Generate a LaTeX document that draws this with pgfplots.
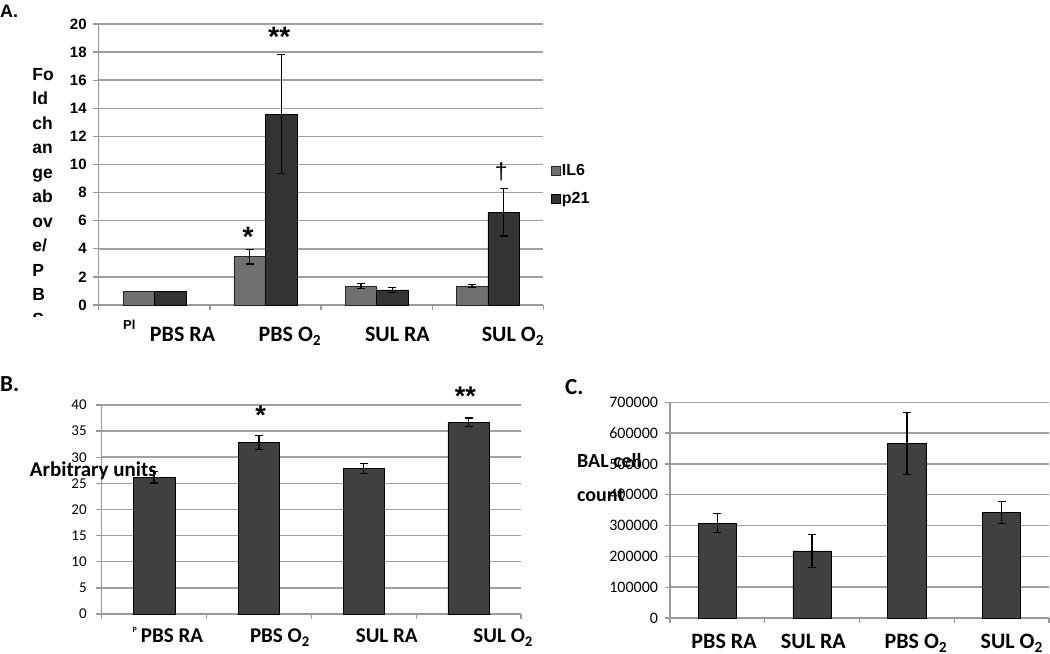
\documentclass[border=0pt]{standalone}
\usepackage{pgfplots}
\pgfplotsset{compat=1.18}
\usepackage{fontspec}
\setmainfont{Liberation Sans}
\newfontfamily\carl{Carlito}
\definecolor{gridc}{HTML}{A0A0A0}
\definecolor{axc}{HTML}{999999}
\definecolor{ilsix}{HTML}{707070}
\definecolor{ptw}{HTML}{333333}
\definecolor{barc}{HTML}{404040}
\pgfplotsset{
  panel/.style={
    scale only axis, axis lines*=left, clip=false,
    axis line style={draw=axc, line width=1.3bp},
    ymajorgrids, grid style={draw=gridc, line width=1.5bp},
    tick align=outside, major tick length=5.5bp,
    tick style={draw=axc, line width=1.3bp},
    xmin=0.5, xmax=4.5, xtick={0.5,1.5,2.5,3.5,4.5}, xticklabels={},
    /pgf/number format/assume math mode=true,
    ybar=0pt,
  },
  eb/.style={error bars/.cd, y dir=both, y explicit,
    error bar style={black, line width=1.3bp},
    error mark options={rotate=90, black, mark size=4bp, line width=1.3bp}},
}
\begin{document}
\begin{tikzpicture}[x=1bp,y=1bp]
\path[use as bounding box] (0,0) rectangle (1050,654);

% ---------------- Panel A
\begin{axis}[panel, at={(98.7bp,349bp)}, anchor=south west,
  width=444.7bp, height=281bp, ymin=0, ymax=20, ytick={0,2,...,20},
  bar width=31.5bp,
  yticklabel={\textbf{\pgfmathprintnumber{\tick}}},
  yticklabel style={font=\bfseries\fontsize{15bp}{15bp}\selectfont, xshift=-3bp},
  extra x ticks={1.254,2.22,3.187,4.226},
  extra x tick labels={PBS RA, PBS O\textsubscript{2}, SUL RA, SUL O\textsubscript{2}},
  extra x tick style={major tick length=0pt, grid=none,
    xticklabel style={font=\carl\bfseries\fontsize{22bp}{22bp}\selectfont, anchor=base, yshift=-37bp}},
  legend style={at={(1.0155,0.4288)}, anchor=west, draw=none, fill=none,
    font=\bfseries\fontsize{16bp}{18bp}\selectfont, inner sep=0pt, row sep=11bp},
  legend cell align=left,
  legend image code/.code={\draw[#1, line width=0.4bp] (0bp,-4.5bp) rectangle (9bp,4.5bp);},
]
\addplot[fill=ilsix, draw=black!85, line width=0.5bp, bar shift=-15.75bp, forget plot]
  coordinates {(1,1.0)};
\addplot[fill=ptw, draw=black, line width=0.5bp, bar shift=15.75bp, forget plot]
  coordinates {(1,1.0)};
\addplot[fill=ilsix, draw=black!85, line width=0.5bp, bar shift=-15.75bp, eb]
  coordinates {(2,3.44) +- (0,0.53) (3,1.35) +- (0,0.19) (4,1.35) +- (0,0.13)};
\addlegendentry{IL6}
\addplot[fill=ptw, draw=black, line width=0.5bp, bar shift=15.75bp, eb]
  coordinates {(2,13.59) +- (0,4.23) (3,1.07) +- (0,0.16) (4,6.6) +- (0,1.68)};
\addlegendentry{p21}
\node[font=\bfseries\fontsize{28bp}{28bp}\selectfont, anchor=base] at (axis cs:2.125,18.4) {**};
\node[font=\bfseries\fontsize{28bp}{28bp}\selectfont, anchor=base] at (axis cs:1.843,4.17) {*};
\node[font=\fontsize{23bp}{23bp}\selectfont, anchor=base] at (axis cs:4.122,8.93) {\dag};
\end{axis}

% ---------------- Panel B
\begin{axis}[panel, at={(101.7bp,40bp)}, anchor=south west,
  width=419.3bp, height=209bp, ymin=0, ymax=40, ytick={0,5,...,40},
  bar width=41.5bp,
  yticklabel style={font=\carl\fontsize{15bp}{15bp}\selectfont, xshift=-6bp},
  extra x ticks={1.171,2.200,3.219,4.33},
  extra x tick labels={PBS RA, PBS O\textsubscript{2}, SUL RA, SUL O\textsubscript{2}},
  extra x tick style={major tick length=0pt, grid=none,
    xticklabel style={font=\carl\bfseries\fontsize{21bp}{21bp}\selectfont, anchor=base, yshift=-29bp}},
]
\addplot[fill=barc, draw=black, line width=0.6bp, eb]
  coordinates {(1,26.2) +- (0,1.1) (2,32.8) +- (0,1.3) (3,27.8) +- (0,0.95) (4,36.7) +- (0,0.8)};
\node[font=\bfseries\fontsize{27bp}{27bp}\selectfont, anchor=base] at (axis cs:2.017,36.3) {*};
\node[font=\bfseries\fontsize{27bp}{27bp}\selectfont, anchor=base] at (axis cs:3.97,39.9) {**};
\end{axis}

% ---------------- Panel C
\begin{axis}[panel, at={(670bp,36bp)}, anchor=south west,
  width=379bp, height=215.7bp, ymin=0, ymax=700000, ytick={0,100000,...,700000},
  scaled y ticks=false,
  yticklabel style={font=\carl\fontsize{16bp}{16bp}\selectfont, xshift=-3bp,
    /pgf/number format/fixed, /pgf/number format/1000 sep={}},
  bar width=38.3bp,
  extra x ticks={1.07,2.013,3.095,4.107},
  extra x tick labels={PBS RA, SUL RA, PBS O\textsubscript{2}, SUL O\textsubscript{2}},
  extra x tick style={major tick length=0pt, grid=none,
    xticklabel style={font=\carl\bfseries\fontsize{22bp}{22bp}\selectfont, anchor=base, yshift=-31bp}},
]
\addplot[fill=barc, draw=black, line width=0.6bp, eb]
  coordinates {(1,308000) +- (0,31000) (2,218000) +- (0,54000) (3,566000) +- (0,100000) (4,342000) +- (0,35000)};
\end{axis}

% ---------------- Free text
\node[anchor=base west, inner sep=0pt, font=\bfseries\fontsize{18bp}{18bp}\selectfont] at (0,654-18) {A.};
\node[anchor=base west, inner sep=0pt, font=\carl\bfseries\fontsize{23bp}{23bp}\selectfont] at (0,654-392) {B.};
\node[anchor=base west, inner sep=0pt, font=\carl\bfseries\fontsize{23bp}{23bp}\selectfont] at (565,654-395) {C.};
\begin{scope}
\clip (0,654-317) rectangle (80,654-55);
\node[anchor=north west, align=left, inner sep=0pt, font=\bfseries\fontsize{17.5bp}{24.5bp}\selectfont] at (32.3,654-68) {Fo\\ld\\ch\\an\\ge\\ab\\ov\\e/\\P\\B\\S};
\end{scope}
\node[anchor=base west, inner sep=0pt, font=\bfseries\fontsize{13bp}{13bp}\selectfont] at (123,654-330) {Pl};
\node[anchor=base west, inner sep=0pt, font=\carl\bfseries\fontsize{8bp}{8bp}\selectfont] at (132.5,654-633) {P};
\node[anchor=base west, inner sep=0pt, font=\carl\bfseries\fontsize{21bp}{21bp}\selectfont] at (29.7,654-477) {Arbitrary units};
\node[anchor=base west, inner sep=0pt, font=\carl\bfseries\fontsize{20bp}{20bp}\selectfont] at (577,654-468) {BAL cell};
\node[anchor=base west, inner sep=0pt, font=\carl\bfseries\fontsize{20bp}{20bp}\selectfont] at (577,654-502) {count};
\end{tikzpicture}
\end{document}
